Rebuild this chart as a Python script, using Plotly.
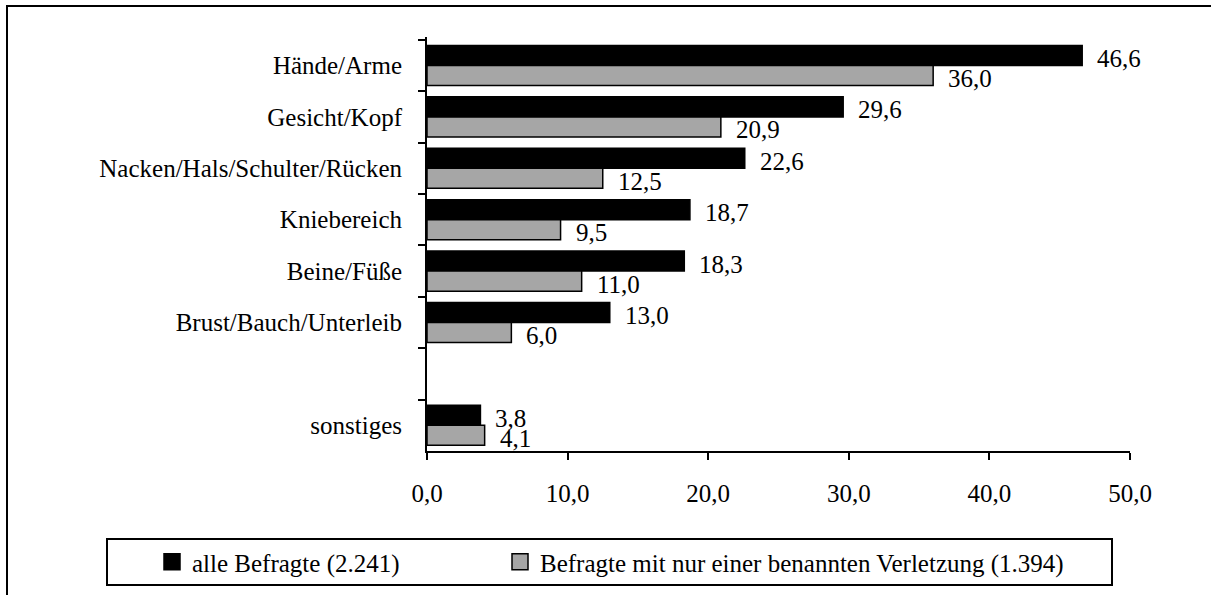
import plotly.graph_objects as go

categories = ["Hände/Arme", "Gesicht/Kopf", "Nacken/Hals/Schulter/Rücken", "Kniebereich",
              "Beine/Füße", "Brust/Bauch/Unterleib", " ", "sonstiges"]
alle = [46.6, 29.6, 22.6, 18.7, 18.3, 13.0, None, 3.8]
nur_eine = [36.0, 20.9, 12.5, 9.5, 11.0, 6.0, None, 4.1]
series_names = ["alle Befragte (2.241)", "Befragte mit nur einer benannten Verletzung (1.394)"]
x_ticks = [0, 10, 20, 30, 40, 50]

W, H = 1211, 595
L, R, T, B = 427, 1130, 37, 451
FONT = "Liberation Serif"
GRAY = "#a6a6a6"
BARGAP = 0.22


def px(x):
    return (x - L) / (R - L)


def py(y):
    return (B - y) / (B - T)


fig = go.Figure()
legends = ["legend", "legend2"]
for k, (vals, name, col) in enumerate([(alle, series_names[0], "black"),
                                        (nur_eine, series_names[1], GRAY)]):
    fig.add_trace(go.Bar(y=categories, x=vals, orientation="h", name=name,
                         marker=dict(color=col, line=dict(color="black", width=1.5)),
                         showlegend=False))
    fig.add_trace(go.Scatter(x=[None], y=[None], mode="markers", name=name, legend=legends[k],
                             marker=dict(symbol="square", size=16, color=col,
                                         line=dict(color="black", width=1.5)),
                             showlegend=True))

half = (1 - BARGAP) / 4
for i, cat in enumerate(categories):
    for vals, off in [(alle, -half), (nur_eine, half)]:
        v = vals[i]
        if v is None:
            continue
        fig.add_annotation(x=v, y=i + off, xref="x", yref="y", text=f"{v:.1f}".replace(".", ","),
                           showarrow=False, xanchor="left", yanchor="middle", xshift=13, yshift=-3,
                           font=dict(family=FONT, size=25, color="black"))

frame = dict(color="black", width=2)
shapes = [
    dict(type="path", xref="paper", yref="paper",
         path=f"M {px(7)} {py(650)} L {px(7)} {py(6)} L {px(1260)} {py(6)}",
         line=frame, fillcolor="rgba(0,0,0,0)", layer="below"),
    dict(type="rect", xref="paper", yref="paper", x0=px(107), x1=px(1112), y0=py(585), y1=py(539),
         line=frame, fillcolor="rgba(0,0,0,0)"),
]

leg_common = dict(orientation="h", xref="container", yref="paper", xanchor="left",
                  y=py(562), yanchor="middle", font=dict(family=FONT, size=25),
                  bgcolor="rgba(0,0,0,0)", borderwidth=0, itemsizing="trace")

fig.update_layout(
    width=W, height=H,
    margin=dict(l=L, r=W - R, t=T, b=H - B, pad=0, autoexpand=False),
    paper_bgcolor="white", plot_bgcolor="white",
    barmode="group", bargap=BARGAP, bargroupgap=0,
    separators=",.",
    font=dict(family=FONT, size=25, color="black"),
    shapes=shapes,
    legend=dict(x=152 / W, **leg_common),
    legend2=dict(x=500 / W, **leg_common),
    xaxis=dict(range=[0, 50], tickvals=x_ticks, tickformat=".1f", showgrid=False, zeroline=False,
               showline=True, linecolor="black", linewidth=2, ticks="outside", ticklen=7,
               tickwidth=2, tickcolor="black", ticklabelstandoff=12,
               tickfont=dict(family=FONT, size=25)),
    yaxis=dict(categoryorder="array", categoryarray=categories, autorange="reversed",
               showgrid=False, zeroline=False, showline=True, linecolor="black", linewidth=2,
               ticks="outside", ticklen=7, tickwidth=2, tickcolor="black", tickson="boundaries",
               ticklabelstandoff=18, tickfont=dict(family=FONT, size=25)),
)

fig.write_html("out.html", config={"displayModeBar": False},
               post_script=("document.documentElement.style.overflow='hidden';"
                            "document.body.style.margin='0px';document.body.style.overflow='hidden';"))
